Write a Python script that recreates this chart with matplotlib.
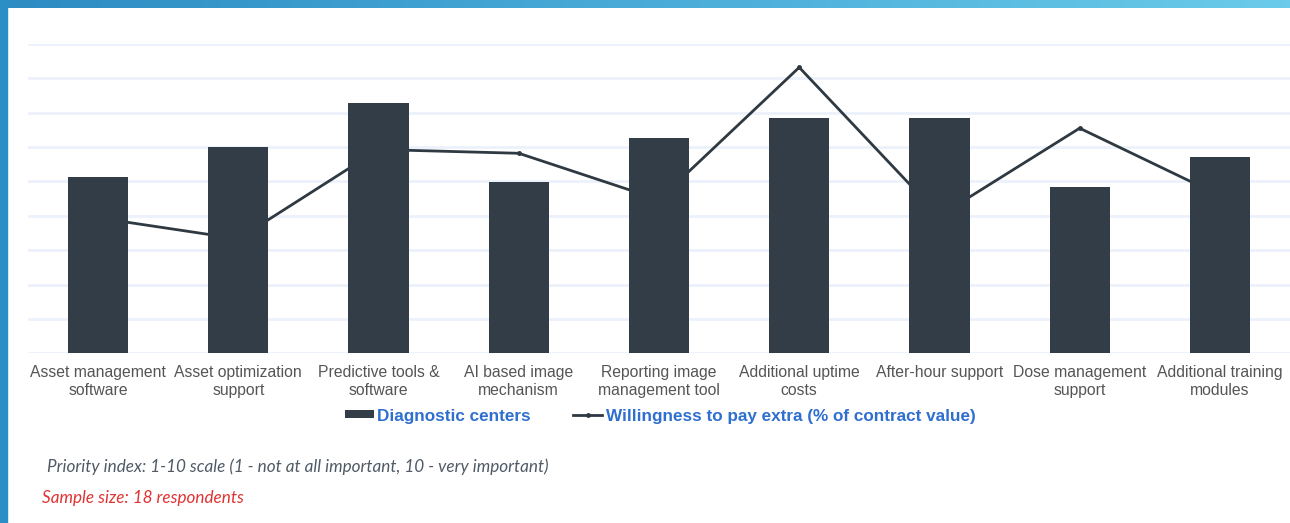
import matplotlib
matplotlib.use('Agg')
import matplotlib.pyplot as plt
import numpy as np
from matplotlib.patches import Rectangle, Patch
from matplotlib.lines import Line2D

categories = ['Asset management\nsoftware', 'Asset optimization\nsupport',
              'Predictive tools &\nsoftware', 'AI based image\nmechanism',
              'Reporting image\nmanagement tool', 'Additional uptime\ncosts',
              'After-hour support', 'Dose management\nsupport',
              'Additional training\nmodules']
priority = [5.13, 5.99, 7.27, 4.97, 6.27, 6.84, 6.84, 4.83, 5.70]
willingness = [3.94, 3.33, 5.93, 5.82, 4.47, 8.32, 4.00, 6.55, 4.59]

bar_color = '#333d47'
line_color = '#2f3942'
grid_color = '#ecf2fb'
legend_blue = '#2f6fcf'

fig = plt.figure(figsize=(12.9, 5.23), dpi=100)

# blue frame: gradient band on top, solid band on the left
top = fig.add_axes([0, 1 - 8 / 523, 1, 8 / 523])
grad = np.linspace(0, 1, 256).reshape(1, -1)
top.imshow(grad, aspect='auto', extent=[0, 1, 0, 1],
           cmap=matplotlib.colors.LinearSegmentedColormap.from_list(
               'frame', ['#2c8cc3', '#49acd8', '#6ccbea']))
top.axis('off')
fig.patches.append(Rectangle((0, 0), 7 / 1290, 1, transform=fig.transFigure,
                             color='#2b8ec4', zorder=5))

ax = fig.add_axes([28 / 1290, 1 - 353.3 / 523, 1262 / 1290, 309.3 / 523])
x = np.arange(len(categories))
ax.bar(x, priority, width=0.43, color=bar_color, zorder=3)
ax.plot(x, willingness, color=line_color, lw=2, marker='o', ms=2.5, zorder=2)

ax.set_xlim(-0.5, len(categories) - 0.5)
ax.set_ylim(0, 9)
ax.set_yticks(range(0, 10))
ax.yaxis.grid(True, color=grid_color, lw=2)
ax.set_axisbelow(True)
ax.tick_params(axis='y', left=False, labelleft=False)
ax.tick_params(axis='x', bottom=False, pad=5)
ax.set_xticks(x)
ax.set_xticklabels(categories, fontsize=11.3, color='#555555',
                   family='Liberation Sans', linespacing=1.2)
for s in ax.spines.values():
    s.set_visible(False)

handles = [Patch(facecolor=bar_color, edgecolor='none'),
           Line2D([], [], color=line_color, lw=2, marker='o', ms=2.5)]
leg = fig.legend(handles, ['Diagnostic centers', 'Willingness to pay extra (% of contract value)'],
                 loc='center', bbox_to_anchor=(660 / 1290, 1 - 416 / 523), ncol=2,
                 frameon=False, handlelength=1.7, handleheight=0.35, handletextpad=0.2,
                 columnspacing=2.5,
                 prop={'family': 'Liberation Sans', 'weight': 'bold', 'size': 12.3})
for t in leg.get_texts():
    t.set_color(legend_blue)

fig.text(47 / 1290, 1 - 467 / 523,
         'Priority index: 1-10 scale (1 - not at all important, 10 - very important)',
         fontsize=12.3, style='italic', color='#505a66', family='Lato', va='center')
fig.text(42 / 1290, 1 - 498 / 523, 'Sample size: 18 respondents',
         fontsize=12.3, style='italic', color='#e03333', family='Lato', va='center')

fig.savefig('out.png', dpi=100, facecolor='white')
